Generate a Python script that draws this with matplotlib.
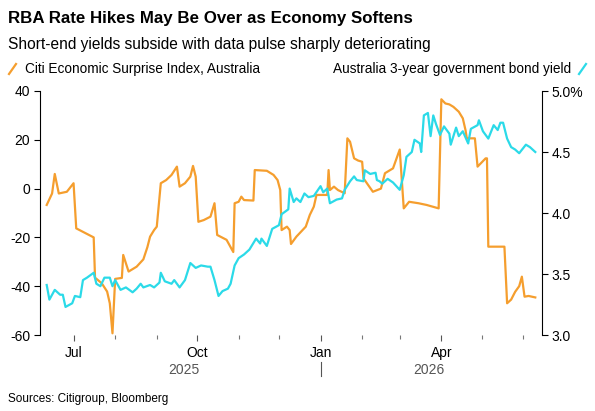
import pandas as pd
import matplotlib
matplotlib.use("Agg")
import matplotlib.pyplot as plt
import matplotlib.dates as mdates
from matplotlib.lines import Line2D

plt.rcParams['font.family'] = ['Liberation Sans', 'DejaVu Sans']

# Citi Economic Surprise Index, Australia (left axis)
cesi_dates = ["2025-06-11", "2025-06-15", "2025-06-17", "2025-06-20", "2025-06-26", "2025-07-01",
              "2025-07-03", "2025-07-16", "2025-07-17", "2025-07-22", "2025-07-26", "2025-07-28",
              "2025-07-30", "2025-08-01", "2025-08-06", "2025-08-07", "2025-08-11", "2025-08-17",
              "2025-08-22", "2025-08-25", "2025-08-27", "2025-08-30", "2025-09-01", "2025-09-04",
              "2025-09-08", "2025-09-12", "2025-09-16", "2025-09-18", "2025-09-22", "2025-09-26",
              "2025-09-28", "2025-09-30", "2025-10-02", "2025-10-06", "2025-10-11", "2025-10-14",
              "2025-10-16", "2025-10-23", "2025-10-28", "2025-10-29", "2025-11-01", "2025-11-03",
              "2025-11-05", "2025-11-12", "2025-11-13", "2025-11-22", "2025-11-27", "2025-11-30",
              "2025-12-02", "2025-12-03", "2025-12-07", "2025-12-09", "2025-12-10", "2025-12-14",
              "2025-12-21", "2025-12-24", "2025-12-27", "2025-12-29", "2026-01-06", "2026-01-07",
              "2026-01-08", "2026-01-11", "2026-01-14", "2026-01-19", "2026-01-21", "2026-01-23",
              "2026-01-26", "2026-01-29", "2026-02-01", "2026-02-02", "2026-02-09", "2026-02-15",
              "2026-02-18", "2026-02-24", "2026-03-01", "2026-03-04", "2026-03-08", "2026-03-15",
              "2026-03-21", "2026-03-30", "2026-04-01", "2026-04-04", "2026-04-07", "2026-04-10",
              "2026-04-14", "2026-04-17", "2026-04-19", "2026-04-20", "2026-04-26", "2026-04-28",
              "2026-05-04", "2026-05-05", "2026-05-06", "2026-05-18", "2026-05-20", "2026-05-23",
              "2026-05-26", "2026-05-29", "2026-05-31", "2026-06-02", "2026-06-05", "2026-06-10"]
cesi_values = [-6.7, -2.0, 6.0, -2.0, -1.3, 2.2,
               -16.3, -20.0, -36.5, -38.8, -42.2, -47.0,
               -59.3, -37.0, -36.6, -27.2, -34.0, -32.0,
               -29.0, -24.0, -19.7, -17.0, -15.6, 2.2,
               3.5, 5.6, 9.0, 0.8, 2.2, 4.9,
               9.3, 4.9, -13.6, -12.9, -11.5, -6.0,
               -19.0, -21.0, -26.0, -6.0, -5.4, -3.3,
               -4.7, -4.9, 7.6, 7.3, 5.6, 3.5,
               -0.6, -17.0, -15.6, -17.0, -22.7, -19.7,
               -15.6, -10.8, -7.4, -2.6, -2.6, 7.6,
               -0.6, 0.8, -0.6, -1.9, 20.6, 19.2,
               12.4, 11.5, 11.0, 4.2, -1.3, 0.0,
               6.3, 8.3, 16.0, -8.1, -5.4, -6.0,
               -6.7, -8.1, 36.6, 34.9, 34.5, 33.5,
               31.5, 28.8, 24.0, 20.6, 20.6, 9.0,
               12.4, 12.4, -23.8, -23.8, -47.0, -45.5,
               -42.3, -40.0, -36.1, -44.3, -44.0, -44.6]

# Australia 3-year government bond yield, % (right axis)
yield_dates = ["2025-06-11", "2025-06-13", "2025-06-17", "2025-06-21", "2025-06-23", "2025-06-25",
               "2025-06-30", "2025-07-02", "2025-07-06", "2025-07-08", "2025-07-11", "2025-07-16",
               "2025-07-18", "2025-07-21", "2025-07-24", "2025-07-28", "2025-07-30", "2025-08-01",
               "2025-08-05", "2025-08-09", "2025-08-14", "2025-08-17", "2025-08-20", "2025-08-22",
               "2025-08-27", "2025-08-30", "2025-09-03", "2025-09-04", "2025-09-07", "2025-09-12",
               "2025-09-14", "2025-09-18", "2025-09-22", "2025-09-26", "2025-09-30", "2025-10-04",
               "2025-10-09", "2025-10-11", "2025-10-14", "2025-10-17", "2025-10-20", "2025-10-24",
               "2025-10-26", "2025-10-29", "2025-11-01", "2025-11-05", "2025-11-09", "2025-11-14",
               "2025-11-17", "2025-11-18", "2025-11-22", "2025-11-26", "2025-12-01", "2025-12-03",
               "2025-12-08", "2025-12-09", "2025-12-12", "2025-12-14", "2025-12-17", "2025-12-20",
               "2025-12-23", "2025-12-27", "2026-01-01", "2026-01-03", "2026-01-06", "2026-01-08",
               "2026-01-13", "2026-01-17", "2026-01-19", "2026-01-23", "2026-01-26", "2026-01-28",
               "2026-02-02", "2026-02-03", "2026-02-07", "2026-02-11", "2026-02-12", "2026-02-14",
               "2026-02-16", "2026-02-20", "2026-02-24", "2026-03-01", "2026-03-04", "2026-03-06",
               "2026-03-10", "2026-03-12", "2026-03-16", "2026-03-17", "2026-03-19", "2026-03-22",
               "2026-03-24", "2026-03-26", "2026-03-28", "2026-03-31", "2026-04-03", "2026-04-07",
               "2026-04-08", "2026-04-12", "2026-04-14", "2026-04-17", "2026-04-21", "2026-04-23",
               "2026-04-28", "2026-04-29", "2026-05-02", "2026-05-06", "2026-05-10", "2026-05-13",
               "2026-05-15", "2026-05-17", "2026-05-20", "2026-05-23", "2026-05-26", "2026-05-29",
               "2026-06-03", "2026-06-06", "2026-06-10"]
yield_values = [3.41, 3.29, 3.37, 3.33, 3.33, 3.23,
                3.26, 3.32, 3.31, 3.45, 3.47, 3.51,
                3.42, 3.40, 3.47, 3.47, 3.40, 3.45,
                3.37, 3.39, 3.35, 3.38, 3.42, 3.39,
                3.41, 3.39, 3.43, 3.51, 3.44, 3.42,
                3.45, 3.39, 3.45, 3.59, 3.55, 3.57,
                3.56, 3.56, 3.45, 3.32, 3.36, 3.38,
                3.42, 3.57, 3.63, 3.66, 3.70, 3.79,
                3.75, 3.79, 3.73, 3.87, 3.90, 3.99,
                4.03, 4.20, 4.09, 4.12, 4.09, 4.16,
                4.13, 4.14, 4.22, 4.17, 4.20, 4.08,
                4.11, 4.12, 4.19, 4.26, 4.30, 4.27,
                4.26, 4.35, 4.32, 4.33, 4.27, 4.26,
                4.24, 4.28, 4.25, 4.19, 4.31, 4.46,
                4.50, 4.60, 4.57, 4.50, 4.80, 4.82,
                4.63, 4.80, 4.73, 4.64, 4.71, 4.65,
                4.56, 4.70, 4.63, 4.67, 4.57, 4.69,
                4.72, 4.76, 4.67, 4.61, 4.72, 4.68,
                4.74, 4.74, 4.61, 4.54, 4.52, 4.49,
                4.56, 4.54, 4.50]

left_ticks = [-60, -40, -20, 0, 20, 40]
right_ticks = [3.0, 3.5, 4.0, 4.5, 5.0]
right_labels = ["3.0", "3.5", "4.0", "4.5", "5.0%"]

ORANGE = "#F59E2E"
CYAN = "#2BDAE8"

fig = plt.figure(figsize=(5.95, 4.11), dpi=100)
ax = fig.add_axes([40 / 595, 1 - 335 / 411, 502 / 595, 244 / 411])
ax2 = ax.twinx()

ax.plot(pd.to_datetime(cesi_dates), cesi_values, color=ORANGE, lw=1.6, solid_joinstyle="round")
ax2.plot(pd.to_datetime(yield_dates), yield_values, color=CYAN, lw=1.6, solid_joinstyle="round")

ax.set_xlim(pd.Timestamp("2025-06-06"), pd.Timestamp("2026-06-15"))
ax.set_ylim(-60, 40)
ax2.set_ylim(3.0, 5.0)

ax.set_yticks(left_ticks)
ax.set_yticklabels([str(t) for t in left_ticks])
ax2.set_yticks(right_ticks)
ax2.set_yticklabels(right_labels)

for a in (ax, ax2):
    for s in ("top", "bottom"):
        a.spines[s].set_visible(False)
ax.spines["right"].set_visible(False)
ax2.spines["left"].set_visible(False)
ax.spines["left"].set_linewidth(0.8)
ax2.spines["right"].set_linewidth(0.8)

ax.tick_params(axis="y", length=4, width=0.8, labelsize=10, pad=3, colors="black")
ax2.tick_params(axis="y", length=4, width=0.8, labelsize=10, pad=3, colors="black")

ax.xaxis.set_major_locator(mdates.MonthLocator(bymonth=[1, 4, 7, 10]))
ax.xaxis.set_major_formatter(mdates.DateFormatter("%b"))
ax.xaxis.set_minor_locator(mdates.MonthLocator())
ax.tick_params(axis="x", which="major", length=4, width=0.8, labelsize=10, pad=4,
               color="#555555")
ax.tick_params(axis="x", which="minor", length=3, width=0.8, color="#777777")

# year labels and divider under the month labels
trans = ax.get_xaxis_transform()
ax.text(pd.Timestamp("2025-09-21"), -0.145, "2025", transform=trans, ha="center", va="center",
        fontsize=10, color="#555555")
ax.text(pd.Timestamp("2026-03-23"), -0.145, "2026", transform=trans, ha="center", va="center",
        fontsize=10, color="#555555")
ax.plot([pd.Timestamp("2026-01-01")] * 2, [-0.11, -0.17], transform=trans, color="#555555",
        lw=0.8, clip_on=False)

fig.text(8 / 595, 1 - 18 / 411, "RBA Rate Hikes May Be Over as Economy Softens",
         fontsize=12.2, fontweight="bold", va="center", ha="left")
fig.text(8 / 595, 1 - 44 / 411, "Short-end yields subside with data pulse sharply deteriorating",
         fontsize=11.2, va="center", ha="left")

fig.add_artist(Line2D([9 / 595, 16 / 595], [1 - 74 / 411, 1 - 64 / 411], color=ORANGE, lw=1.6))
fig.text(25 / 595, 1 - 69 / 411, "Citi Economic Surprise Index, Australia",
         fontsize=9.8, va="center", ha="left")
fig.add_artist(Line2D([579 / 595, 586 / 595], [1 - 74 / 411, 1 - 64 / 411], color=CYAN, lw=1.6))
fig.text(571 / 595, 1 - 69 / 411, "Australia 3-year government bond yield",
         fontsize=9.8, va="center", ha="right")

fig.text(8 / 595, 1 - 399 / 411, "Sources: Citigroup, Bloomberg", fontsize=8.5,
         va="center", ha="left")

fig.savefig("out.png", dpi=100)
